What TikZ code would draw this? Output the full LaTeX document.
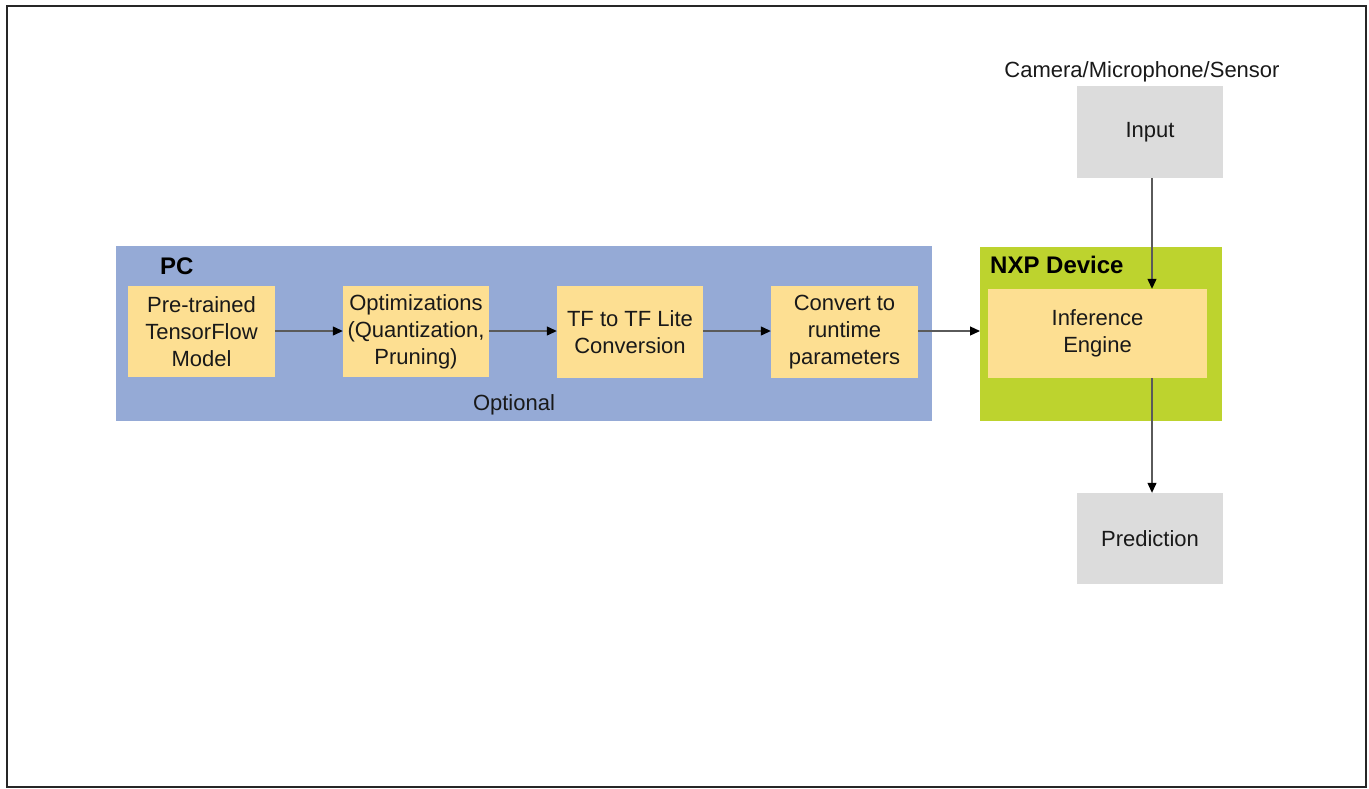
\documentclass[tikz,border=0pt]{standalone}
\usepackage{fontspec}
\setmainfont{Liberation Sans}
\usetikzlibrary{arrows.meta}
\definecolor{pcblue}{HTML}{95AAD6}
\definecolor{stepyellow}{HTML}{FDDF92}
\definecolor{nxpgreen}{HTML}{BDD32E}
\definecolor{iogrey}{HTML}{DCDCDC}
\definecolor{linegrey}{HTML}{5A5A5A}
\begin{document}
\begin{tikzpicture}[x=1pt,y=-1pt,
  txt/.style={font=\fontsize{22}{27}\selectfont, align=center, text=black!90},
  stepbox/.style={fill=stepyellow, draw=none, txt, inner sep=0pt},
  iobox/.style={fill=iogrey, draw=none, txt},
  lbl/.style={font=\fontsize{24}{28}\selectfont\bfseries, text=black, anchor=west, inner sep=0pt},
  conn/.style={draw=linegrey, line width=1.2pt, -{Triangle[length=10pt,width=9pt,color=black]}}
]
\useasboundingbox (0,0) rectangle (1369,788);
\draw[line width=2pt, black!85] (7,6) rectangle (1366,787);

% groups
\fill[pcblue] (116,246) rectangle (932,421);
\fill[nxpgreen] (980,247) rectangle (1222,421);
\node[lbl] (pclbl) at (160,266) {PC};
\node[lbl] (nxplbl) at (990,265) {NXP Device};
\node[txt] (opt) at (514,405) {Optional};

% step boxes
\node[stepbox, minimum width=147pt, minimum height=91pt] (s1) at (201.5,331.5) {Pre-trained\\TensorFlow\\Model};
\node[stepbox, minimum width=146pt, minimum height=91pt] (s2) at (416,331.5) {Optimizations\\(Quantization,\\Pruning)};
\node[stepbox, minimum width=146pt, minimum height=92pt] (s3) at (630,332) {TF to TF Lite\\Conversion};
\node[stepbox, minimum width=147pt, minimum height=92pt] (s4) at (844.5,332) {Convert to\\runtime\\parameters};
\node[stepbox, minimum width=219pt, minimum height=89pt] (inf) at (1097.5,333.5) {Inference\\Engine};

% io boxes
\node[iobox, minimum width=146pt, minimum height=92pt] (in) at (1150,132) {Input};
\node[iobox, minimum width=146pt, minimum height=91pt] (pred) at (1150,538.5) {Prediction};
\node[txt, anchor=south] (cam) at (1142,86) {Camera/Microphone/Sensor};

% connectors
\coordinate (nxpw) at (980,331);
\draw[conn] (s1.east |- 0,331) -- (s2.west |- 0,331);
\draw[conn] (s2.east |- 0,331) -- (s3.west |- 0,331);
\draw[conn] (s3.east |- 0,331) -- (s4.west |- 0,331);
\draw[conn] (s4.east |- 0,331) -- (nxpw);
\draw[conn] (in.south -| 1152,0) -- (inf.north -| 1152,0);
\draw[conn] (inf.south -| 1152,0) -- (pred.north -| 1152,0);
\end{tikzpicture}
\end{document}
